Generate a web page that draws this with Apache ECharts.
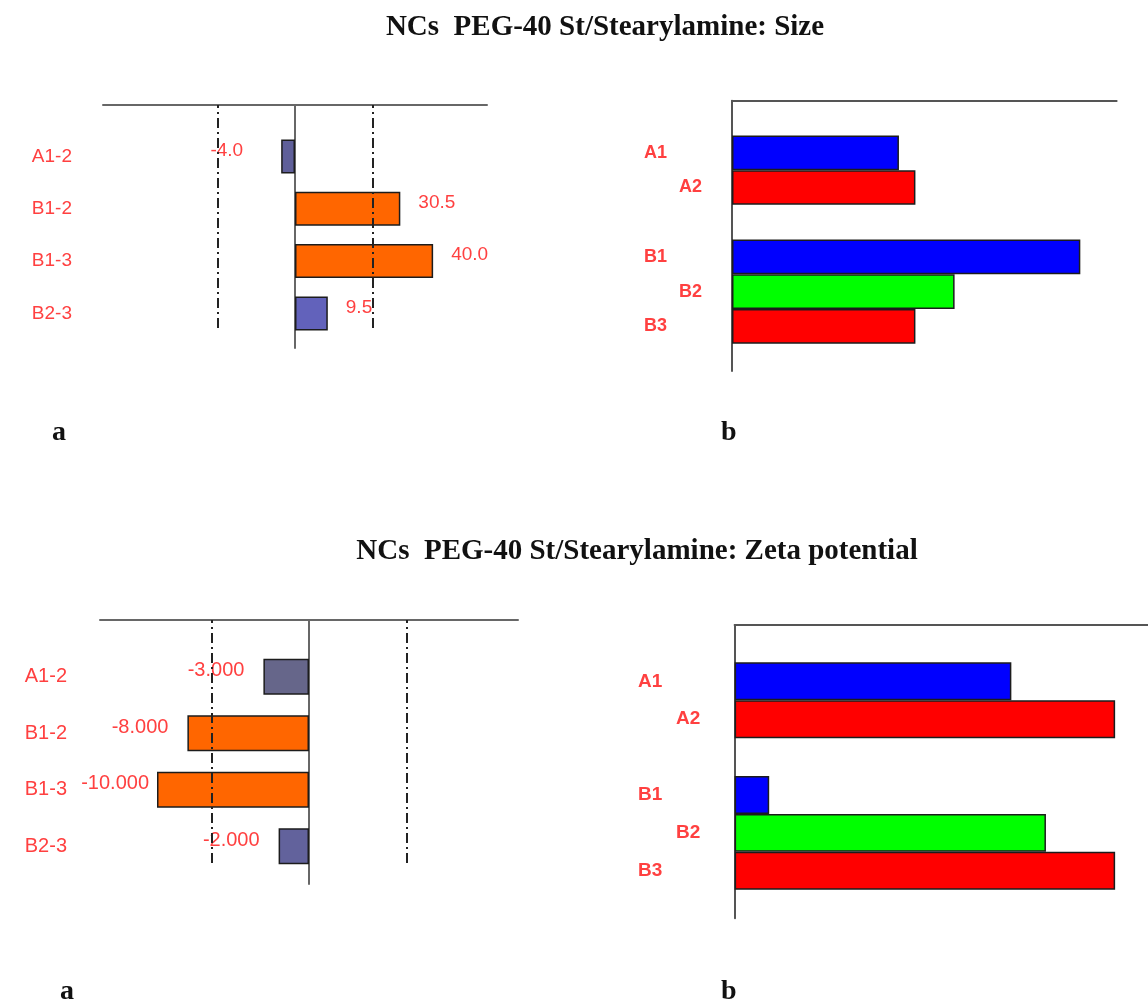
<!DOCTYPE html>
<html>
<head>
<meta charset="utf-8">
<title>NCs PEG-40 St/Stearylamine</title>
<script src="https://cdn.jsdelivr.net/npm/echarts@6/dist/echarts.min.js"></script>
<style>
  html, body { margin: 0; padding: 0; background: #ffffff; }
  #chart { width: 1148px; height: 1005px; }
</style>
</head>
<body>
<div id="chart"></div>
<script>
// Effects of factor level changes (a) and level means (b)
const effectNames = ['A1-2', 'B1-2', 'B1-3', 'B2-3'];
const sizeEffects = [-4.0, 30.5, 40.0, 9.5];
const sizeLimits = [-22.4, 22.4];
const zetaEffects = [-3.0, -8.0, -10.0, -2.0];
const zetaLimits = [-6.4, 6.4];

const levelNames = ['A1', 'A2', '', 'B1', 'B2', 'B3'];
const sizeLevelMeans = [40.5, 44.5, null, 84.5, 54.0, 44.5];
const zetaLevelMeans = [8.0, 11.0, null, 1.0, 9.0, 11.0];

const RED_TEXT = '#ff4040';
const SANS = '"Liberation Sans", Arial, sans-serif';
const SERIF = '"Liberation Serif", "Times New Roman", serif';

const grids = [], xAxes = [], yAxes = [], series = [];
const off = { show: false };

function addGrid(left, top, width, height) {
  grids.push({ left, top, width, height, containLabel: false });
  return grids.length - 1;
}

// Effect chart: frame lines, dash-dot limit lines and effect bars
function effectPanel(p) {
  const lineStyle = { color: '#676767', width: 2 };
  // frame: top axis and zero line
  let g = addGrid(p.left, p.frameTop, p.width, p.frameHeight);
  xAxes.push({ gridIndex: g, type: 'value', min: p.min, max: p.max, position: 'top',
    axisLine: { show: true, onZero: false, lineStyle }, axisTick: off, axisLabel: off, splitLine: off });
  yAxes.push({ gridIndex: g, type: 'value', min: 0, max: 1,
    axisLine: { show: true, onZero: true, lineStyle }, axisTick: off, axisLabel: off, splitLine: off });

  // limit lines
  g = addGrid(p.left, p.frameTop, p.width, p.limitHeight);
  xAxes.push({ gridIndex: g, type: 'value', min: p.min, max: p.max, show: false });
  yAxes.push({ gridIndex: g, type: 'value', min: 0, max: 1, show: false });
  const limitAxis = xAxes.length - 1;

  // effect bars
  g = addGrid(p.left, p.barTop, p.width, p.barHeight);
  xAxes.push({ gridIndex: g, type: 'value', min: p.min, max: p.max, show: false });
  yAxes.push({ gridIndex: g, type: 'category', data: p.names, inverse: true,
    axisLine: off, axisTick: off, splitLine: off,
    axisLabel: { margin: p.labelMargin, color: RED_TEXT, fontFamily: SANS, fontSize: p.fontSize,
      padding: [0, 0, 12, 0] } });
  const barAxis = xAxes.length - 1;

  series.push({
    type: 'bar', xAxisIndex: barAxis, yAxisIndex: barAxis, barWidth: p.barWidth,
    data: p.values.map((v, i) => ({
      value: v,
      itemStyle: { color: p.colors[i] },
      label: { position: v < 0 ? 'left' : 'right', distance: p.gaps[i] }
    })),
    itemStyle: { borderColor: '#1c1c1c', borderWidth: 1.5 },
    label: { show: true, color: RED_TEXT, fontFamily: SANS, fontSize: p.fontSize, offset: [0, -6],
      formatter: d => d.value.toFixed(p.decimals) },
    silent: true
  });
  series.push({
    type: 'line', xAxisIndex: limitAxis, yAxisIndex: limitAxis, data: [], silent: true,
    markLine: { silent: true, symbol: ['none', 'none'], label: off,
      lineStyle: { type: [10, 4, 2, 4], color: '#222222', width: 2 },
      data: p.limits.map(v => ({ xAxis: v })) }
  });
}

// Level-mean chart: frame lines and coloured bars
function meanPanel(p) {
  const lineStyle = { color: '#555555', width: 2 };
  let g = addGrid(p.left, p.frameTop, p.width, p.frameHeight);
  xAxes.push({ gridIndex: g, type: 'value', min: 0, max: 1, position: 'top',
    axisLine: { show: true, onZero: false, lineStyle }, axisTick: off, axisLabel: off, splitLine: off });
  yAxes.push({ gridIndex: g, type: 'value', min: 0, max: 1,
    axisLine: { show: true, onZero: false, lineStyle }, axisTick: off, axisLabel: off, splitLine: off });

  g = addGrid(p.left, p.barTop, p.width, p.barHeight);
  xAxes.push({ gridIndex: g, type: 'value', min: 0, max: p.max, show: false });
  const labelStyle = { align: 'left', color: RED_TEXT, fontFamily: SANS, fontWeight: 'bold',
    fontSize: p.fontSize, padding: [0, 0, 12, 0] };
  yAxes.push({ gridIndex: g, type: 'category', inverse: true,
    data: p.names.map((n, i) => p.indent.includes(i)
      ? { value: n, textStyle: Object.assign({}, labelStyle, { padding: [0, 0, 12, p.indentWidth] }) }
      : n),
    axisLine: off, axisTick: off, splitLine: off,
    axisLabel: Object.assign({ margin: p.labelMargin }, labelStyle) });
  const ax = xAxes.length - 1;

  const colors = ['#0000ff', '#ff0000', null, '#0000ff', '#00ff00', '#ff0000'];
  series.push({
    type: 'bar', xAxisIndex: ax, yAxisIndex: ax, barCategoryGap: '0%',
    data: p.values.map((v, i) => v == null ? '-' : ({ value: v, itemStyle: { color: colors[i] } })),
    itemStyle: { borderColor: '#1c1c1c', borderWidth: 1.5 },
    silent: true
  });
}

effectPanel({ names: effectNames, values: sizeEffects, limits: sizeLimits,
  min: -55.6, max: 55.6, left: 103, width: 384,
  frameTop: 105, frameHeight: 243, limitHeight: 223, barTop: 130.3, barHeight: 209.3,
  barWidth: 34, labelMargin: 31, fontSize: 19, decimals: 1,
  colors: ['#5f5f99', '#ff6600', '#ff6600', '#6262bb'], gaps: [38, 18, 18, 18] });

effectPanel({ names: effectNames, values: zetaEffects, limits: zetaLimits,
  min: -13.75, max: 13.75, left: 100, width: 418,
  frameTop: 620, frameHeight: 264, limitHeight: 243, barTop: 648.4, barHeight: 226,
  barWidth: 36, labelMargin: 33, fontSize: 20, decimals: 3,
  colors: ['#66668a', '#ff6600', '#ff6600', '#62629c'], gaps: [19, 19, 8, 19] });

meanPanel({ names: levelNames, values: sizeLevelMeans, max: 93.3,
  left: 732, width: 384.6, frameTop: 100.7, frameHeight: 270.3, barTop: 135.45, barHeight: 208.2,
  labelMargin: 88, fontSize: 18, indent: [1, 4], indentWidth: 35 });

meanPanel({ names: levelNames, values: zetaLevelMeans, max: 11.95,
  left: 734.6, width: 413.4, frameTop: 625, frameHeight: 293.3, barTop: 662.35, barHeight: 227.4,
  labelMargin: 96.6, fontSize: 19, indent: [1, 4], indentWidth: 38 });

function text(str, x, y, font, align) {
  return { type: 'text', x, y, silent: true,
    style: { text: str, font, fill: '#111111', textAlign: align || 'left', textVerticalAlign: 'middle' } };
}

const chart = echarts.init(document.getElementById('chart'), null, { renderer: 'canvas' });
chart.setOption({
  animation: false,
  backgroundColor: '#ffffff',
  grid: grids, xAxis: xAxes, yAxis: yAxes, series,
  graphic: [
    text('NCs  PEG-40 St/Stearylamine: Size', 605, 28, 'bold 29px ' + SERIF, 'center'),
    text('NCs  PEG-40 St/Stearylamine: Zeta potential', 637, 552, 'bold 29px ' + SERIF, 'center'),
    text('a', 52, 433, 'bold 28px ' + SERIF),
    text('b', 721, 433, 'bold 28px ' + SERIF),
    text('a', 60, 992, 'bold 28px ' + SERIF),
    text('b', 721, 992, 'bold 28px ' + SERIF)
  ]
});
</script>
</body>
</html>
